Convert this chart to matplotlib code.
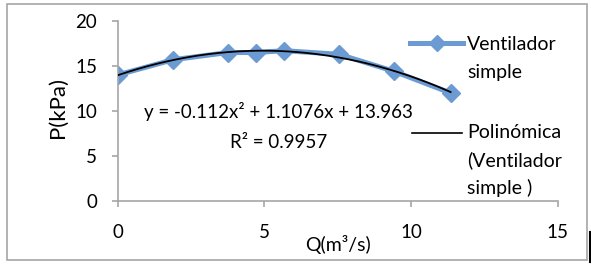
import numpy as np
import matplotlib
matplotlib.use("Agg")
import matplotlib.pyplot as plt
from matplotlib.lines import Line2D
from matplotlib.patches import Rectangle

plt.rcParams['font.family'] = ['Lato', 'DejaVu Sans']

# data
caudal = [0, 1.9, 3.77, 4.72, 5.68, 7.55, 9.43, 11.35]          # Q (m3/s)
presion = [14.0, 15.7, 16.5, 16.5, 16.7, 16.3, 14.4, 12.0]      # P (kPa)
coef_poly = [-0.112, 1.1076, 13.963]                            # trendline shown on chart
x_ticks = [0, 5, 10, 15]
y_ticks = [0, 5, 10, 15, 20]
serie_txt = ['Ventilador', 'simple']
tend_txt = ['Polinómica', '(Ventilador', 'simple )']

azul = '#6b9bd2'
gris = '#a6a6a6'
W, H = 591, 267

fig = plt.figure(figsize=(W / 100, H / 100), dpi=100)
ax = fig.add_axes([117.5 / W, 1 - 201 / H, 440.2 / W, 180 / H])

ax.plot(caudal, presion, color=azul, lw=3.6, marker='D', ms=9,
        mfc=azul, mec=azul, zorder=2)

xf = np.linspace(min(caudal), max(caudal), 200)
ax.plot(xf, np.polyval(coef_poly, xf), color='black', lw=1.3, zorder=3)

ax.set_xlim(0, 15)
ax.set_ylim(0, 20)
ax.set_xticks(x_ticks)
ax.set_yticks(y_ticks)
for s in ['top', 'right']:
    ax.spines[s].set_visible(False)
for s in ['left', 'bottom']:
    ax.spines[s].set_color(gris)
    ax.spines[s].set_linewidth(1.2)
ax.tick_params(axis='both', colors=gris, labelcolor='black', labelsize=13.5,
               length=4.3, width=1.2, direction='out')
ax.tick_params(axis='x', pad=12)
ax.tick_params(axis='y', pad=10.5)

ax.set_xlabel('Q(m³/s)', fontsize=14)
ax.xaxis.set_label_coords(0.5, -0.19)
ax.set_ylabel('P(kPa)', fontsize=16)
ax.yaxis.set_label_coords(-0.112, 0.52)

ax.text(5.5, 9.9, 'y = -0.112x² + 1.1076x + 13.963', fontsize=13.5,
        ha='center', va='center')
ax.text(5.5, 6.55, 'R² = 0.9957', fontsize=13.5, ha='center', va='center')

# legend drawn by hand (Excel style: key aligned with first text line)
def px(x, y):
    return x / W, 1 - y / H

fig.lines.append(Line2D([410 / W, 463 / W], [1 - 43 / H] * 2, transform=fig.transFigure,
                        color=azul, lw=3.6))
fig.lines.append(Line2D([437 / W], [1 - 43 / H], transform=fig.transFigure,
                        color=azul, marker='D', ms=8, lw=0))
fig.lines.append(Line2D([412 / W, 462 / W], [1 - 133 / H] * 2, transform=fig.transFigure,
                        color='black', lw=1.2))
for i, t in enumerate(serie_txt):
    fig.text(*px(467, 45 + 27.5 * i), t, fontsize=14, va='center', ha='left')
for i, t in enumerate(tend_txt):
    fig.text(*px(467, 133 + 27.5 * i), t, fontsize=14, va='center', ha='left')

# outer chart frame
fig.patches.append(Rectangle(px(7, 260), 580 / W, 256 / H,
                             transform=fig.transFigure, fill=False,
                             edgecolor=gris, lw=1.2))
fig.lines.append(Line2D([590 / W, 590 / W], [1 - 232 / H, 1 - 262 / H],
                        transform=fig.transFigure, color='black', lw=1.5))

fig.savefig('out.png', dpi=100)
